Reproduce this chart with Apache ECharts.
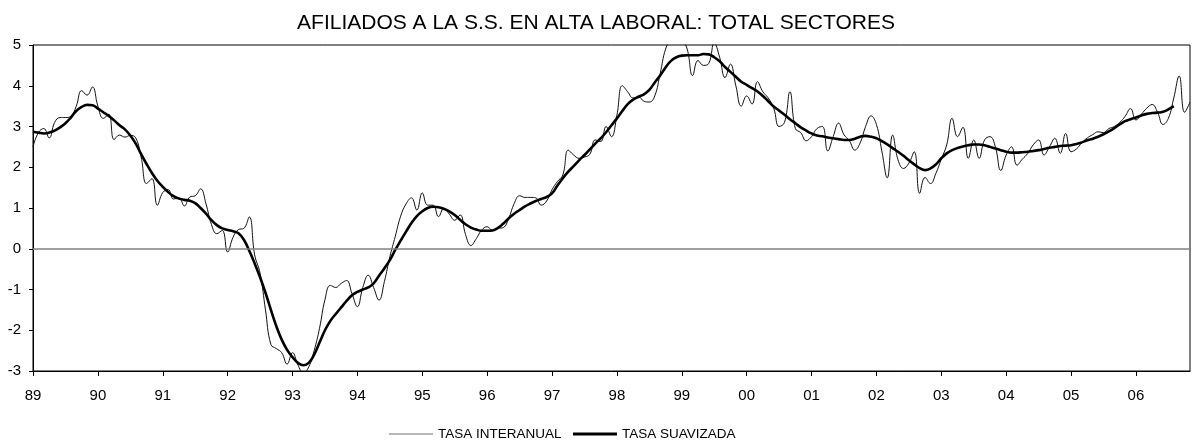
<!DOCTYPE html>
<html>
<head>
<meta charset="utf-8">
<script src="https://cdn.jsdelivr.net/npm/echarts@6/dist/echarts.min.js"></script>
<style>html,body{margin:0;padding:0;background:#fff}#c{width:1192px;height:448px}</style>
</head>
<body>
<div id="c"></div>
<script>
const years = ['89','90','91','92','93','94','95','96','97','98','99','00','01','02','03','04','05','06'];
const seriesNames = ['TASA INTERANUAL', 'TASA SUAVIZADA'];
const chartTitle = 'AFILIADOS A LA S.S. EN ALTA LABORAL: TOTAL SECTORES';

// Monthly values, Jan 1989 onwards
const tasaInteranual = [
 2.5, 2.85, 2.95, 2.72, 3.1, 3.22, 3.22, 3.25, 3.5, 3.88, 3.77, 3.97,
 3.5, 3.2, 3.3, 2.68, 2.79, 2.74, 2.78, 2.72, 2.25, 1.6, 1.72, 1.07,
 1.38, 1.45, 1.22, 1.25, 1.05, 1.27, 1.3, 1.47, 1.1, 0.6, 0.37, 0.45,
 -0.08, 0.28, 0.47, 0.5, 0.78, -0.15, -0.6, -1.5, -2.35, -2.45, -2.55, -2.83,
 -2.55, -2.85, -3.05, -2.9, -2.5, -1.95, -1.25, -0.9, -0.95, -0.85, -0.78, -1.1,
 -1.42, -0.95, -0.65, -0.95, -1.26, -0.8, -0.2, 0.3, 0.8, 1.1, 1.25, 0.95,
 1.37, 1.07, 1.07, 0.79, 0.99, 0.85, 0.7, 0.83, 0.35, 0.08, 0.25, 0.46,
 0.54, 0.45, 0.5, 0.52, 0.75, 1.11, 1.3, 1.26, 1.26, 1.25, 1.07, 1.17,
 1.45, 1.65, 1.81, 2.42, 2.3, 2.22, 2.25, 2.32, 2.67, 2.63, 3.0, 2.75,
 3.28, 4.0, 3.85, 3.7, 3.73, 3.62, 3.6, 3.75, 4.3, 4.9, 5.15, 5.3,
 5.15, 4.9, 4.25, 4.62, 4.5, 4.55, 5.05, 4.7, 4.2, 4.53, 4.0, 3.5,
 3.75, 3.55, 4.1, 3.85, 3.7, 3.45, 3.0, 3.1, 3.85, 2.95, 2.85, 2.65,
 2.75, 2.95, 3.0, 2.4, 2.75, 3.08, 2.8, 2.65, 2.42, 2.6, 3.0, 3.26,
 3.05, 2.4, 1.74, 2.79, 2.18, 1.97, 2.1, 2.38, 1.36, 1.75, 1.6, 1.85,
 2.2, 2.55, 3.2, 2.75, 2.98, 2.22, 2.67, 2.22, 2.67, 2.75, 2.5, 1.92,
 2.3, 2.5, 2.05, 2.2, 2.34, 2.55, 2.67, 2.3, 2.5, 2.71, 2.34, 2.83,
 2.38, 2.45, 2.6, 2.72, 2.8, 2.87, 2.85, 2.95, 3.0, 3.1, 3.25, 3.44,
 3.16, 3.3, 3.45, 3.54, 3.35, 3.05, 3.2, 3.7, 4.24, 3.35, 3.6
];

const tasaSuavizada = [
 2.87, 2.85, 2.83, 2.85, 2.9, 2.98, 3.08, 3.22, 3.38, 3.48, 3.53, 3.52,
 3.44, 3.35, 3.26, 3.15, 3.03, 2.93, 2.78, 2.58, 2.32, 2.08, 1.86, 1.67,
 1.52, 1.39, 1.29, 1.23, 1.2, 1.18, 1.12, 1.0, 0.86, 0.7, 0.58, 0.5,
 0.46, 0.43, 0.38, 0.22, -0.05, -0.36, -0.7, -1.08, -1.5, -1.9, -2.23, -2.48,
 -2.66, -2.8, -2.86, -2.8, -2.6, -2.3, -2.0, -1.77, -1.6, -1.44, -1.28, -1.14,
 -1.06, -1.0, -0.95, -0.85, -0.66, -0.48, -0.28, -0.03, 0.2, 0.42, 0.63, 0.8,
 0.92, 1.0, 1.03, 1.02, 0.98, 0.92, 0.83, 0.71, 0.6, 0.52, 0.47, 0.44,
 0.44, 0.45, 0.51, 0.62, 0.75, 0.86, 0.95, 1.04, 1.11, 1.17, 1.22, 1.27,
 1.36, 1.55, 1.73, 1.89, 2.03, 2.17, 2.3, 2.44, 2.58, 2.71, 2.86, 3.03,
 3.2, 3.38, 3.55, 3.66, 3.73, 3.79, 3.9, 4.08, 4.25, 4.45, 4.61, 4.7,
 4.74, 4.75, 4.75, 4.75, 4.78, 4.77, 4.7, 4.6, 4.46, 4.34, 4.22, 4.1,
 4.02, 3.94, 3.86, 3.75, 3.62, 3.49, 3.39, 3.29, 3.18, 3.08, 2.98, 2.9,
 2.83, 2.78, 2.76, 2.73, 2.71, 2.69, 2.67, 2.67, 2.7, 2.75, 2.77, 2.75,
 2.71, 2.64, 2.56, 2.47, 2.38, 2.28, 2.17, 2.07, 1.98, 1.93, 1.97, 2.07,
 2.22, 2.34, 2.42, 2.47, 2.51, 2.54, 2.56, 2.56, 2.54, 2.5, 2.46, 2.42,
 2.38, 2.36, 2.36, 2.37, 2.38, 2.4, 2.42, 2.45, 2.48, 2.5, 2.52, 2.53,
 2.54, 2.57, 2.61, 2.66, 2.7, 2.75, 2.81, 2.88, 2.96, 3.05, 3.13, 3.18,
 3.22, 3.27, 3.31, 3.33, 3.34, 3.36, 3.42, 3.5
];

// Month categories built from the year labels
const months = [];
years.forEach(y => { for (let m = 1; m <= 12; m++) months.push(y + '-' + m); });
const categories = months.slice(0, tasaInteranual.length);

const FONT = 'Liberation Sans, Arial, sans-serif';
const legendText = {fontFamily: FONT, fontSize: 13.5, color: '#000'};
const chart = echarts.init(document.getElementById('c'), null, {renderer: 'canvas'});
chart.setOption({
  animation: false,
  backgroundColor: '#fff',
  textStyle: {fontFamily: FONT, color: '#000'},
  title: {
    text: chartTitle, left: 'center', top: 8,
    textStyle: {fontFamily: FONT, fontSize: 21, fontWeight: 'normal', color: '#000'}
  },
  legend: [
    {
      left: 389, top: 427, itemWidth: 44, itemHeight: 1, icon: 'rect', padding: 0,
      textStyle: legendText,
      data: [{name: seriesNames[0], itemStyle: {color: '#707070'}}]
    },
    {
      left: 573, top: 427, itemWidth: 44, itemHeight: 3, icon: 'rect', padding: 0,
      textStyle: legendText,
      data: [{name: seriesNames[1], itemStyle: {color: '#000'}}]
    }
  ],
  grid: {
    left: 33, top: 45, width: 1157, height: 326,
    show: true, borderColor: '#000', borderWidth: 1, backgroundColor: 'transparent',
    containLabel: false
  },
  xAxis: {
    type: 'category', data: categories, boundaryGap: false,
    axisLine: {show: true, onZero: false, lineStyle: {color: '#000', width: 1}},
    axisTick: {show: true, length: 5, lineStyle: {color: '#000'}, interval: (i) => i % 12 === 0},
    axisLabel: {
      interval: (i) => i % 12 === 0, margin: 17,
      fontFamily: FONT, fontSize: 15, color: '#000',
      formatter: (v) => v.split('-')[0]
    },
    splitLine: {show: false}
  },
  yAxis: {
    type: 'value', min: -3, max: 5, interval: 1,
    axisLine: {show: true, lineStyle: {color: '#000', width: 1}},
    axisTick: {show: true, length: 4, lineStyle: {color: '#000'}},
    axisLabel: {margin: 12, fontFamily: FONT, fontSize: 15, color: '#000'},
    splitLine: {show: false}
  },
  series: [
    {
      name: seriesNames[0], type: 'line', data: tasaInteranual,
      smooth: 0.45, symbol: 'none', clip: true,
      lineStyle: {color: '#111', width: 1},
      itemStyle: {color: '#111'},
      markLine: {
        silent: true, symbol: 'none', label: {show: false},
        lineStyle: {color: '#808080', width: 1.5, type: 'solid'},
        data: [{yAxis: 0}]
      },
      z: 2
    },
    {
      name: seriesNames[1], type: 'line', data: tasaSuavizada,
      smooth: 0.45, symbol: 'none', clip: true,
      lineStyle: {color: '#000', width: 2.6},
      itemStyle: {color: '#000'},
      z: 3
    }
  ]
});
</script>
</body>
</html>
